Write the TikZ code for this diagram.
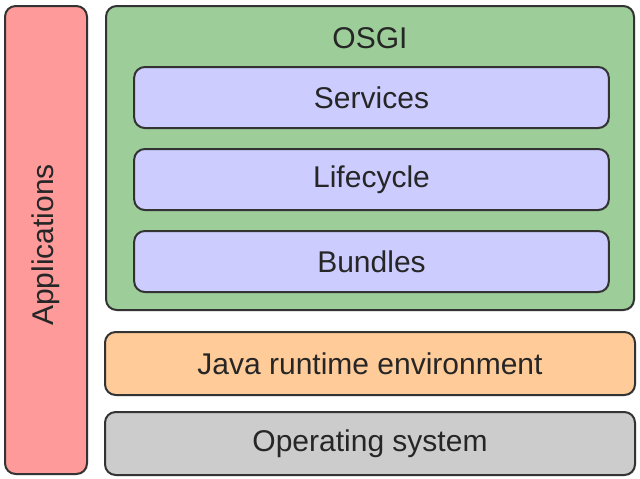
\documentclass[tikz,border=0pt]{standalone}
\usepackage{fontspec}
\setmainfont{Liberation Sans}
\usetikzlibrary{shadows}

\definecolor{appred}{HTML}{FF9A9A}
\definecolor{osgigreen}{HTML}{9DCD99}
\definecolor{layerblue}{HTML}{CCCCFF}
\definecolor{jreorange}{HTML}{FFCC99}
\definecolor{osgray}{HTML}{CCCCCC}
\definecolor{edgegray}{HTML}{333333}

\tikzset{
  layer/.style={draw=edgegray, line width=1.5pt, rounded corners=8pt,
    drop shadow={shadow xshift=0.8pt, shadow yshift=-0.8pt, opacity=0.25},
    font=\fontsize{22.5}{27}\selectfont, text=black!85},
}

\begin{document}
\begin{tikzpicture}[x=0.75pt, y=-0.75pt]
        \useasboundingbox (0,0) rectangle (640,479);
        % ==== APPLICATIONS ====
        \node[layer, fill=appred, minimum width=61.5pt, minimum height=351pt] (apps) at (46,240) {};
        \node[rotate=90, font=\fontsize{22.5}{27}\selectfont, text=black!85] (appstext) at (46,245) {Applications};
        % ==== OSGI FRAMEWORK ====
        \node[layer, fill=osgigreen, minimum width=396pt, minimum height=228pt] (osgi) at (370,158) {};
        \node[font=\fontsize{22.5}{27}\selectfont, text=black!85] (osgitext) at (370,38) {OSGI};
        \node[layer, fill=layerblue, minimum width=356pt, minimum height=45.75pt] (services) at (371.5,97.5) {Services};
        \node[layer, fill=layerblue, minimum width=356pt, minimum height=45.75pt] (lifecycle) at (371.5,179.5) {Lifecycle};
        \node[layer, fill=layerblue, minimum width=356pt, minimum height=45.75pt] (bundles) at (371.5,261.5) {Bundles};
        % ==== LOWER LAYERS ====
        \node[layer, fill=jreorange, minimum width=397.5pt, minimum height=47.25pt] (jre) at (370,363.5) {Java runtime environment};
        \node[layer, fill=osgray, minimum width=397.5pt, minimum height=47.25pt] (os) at (370,443.5) {Operating system};
\end{tikzpicture}
\end{document}
